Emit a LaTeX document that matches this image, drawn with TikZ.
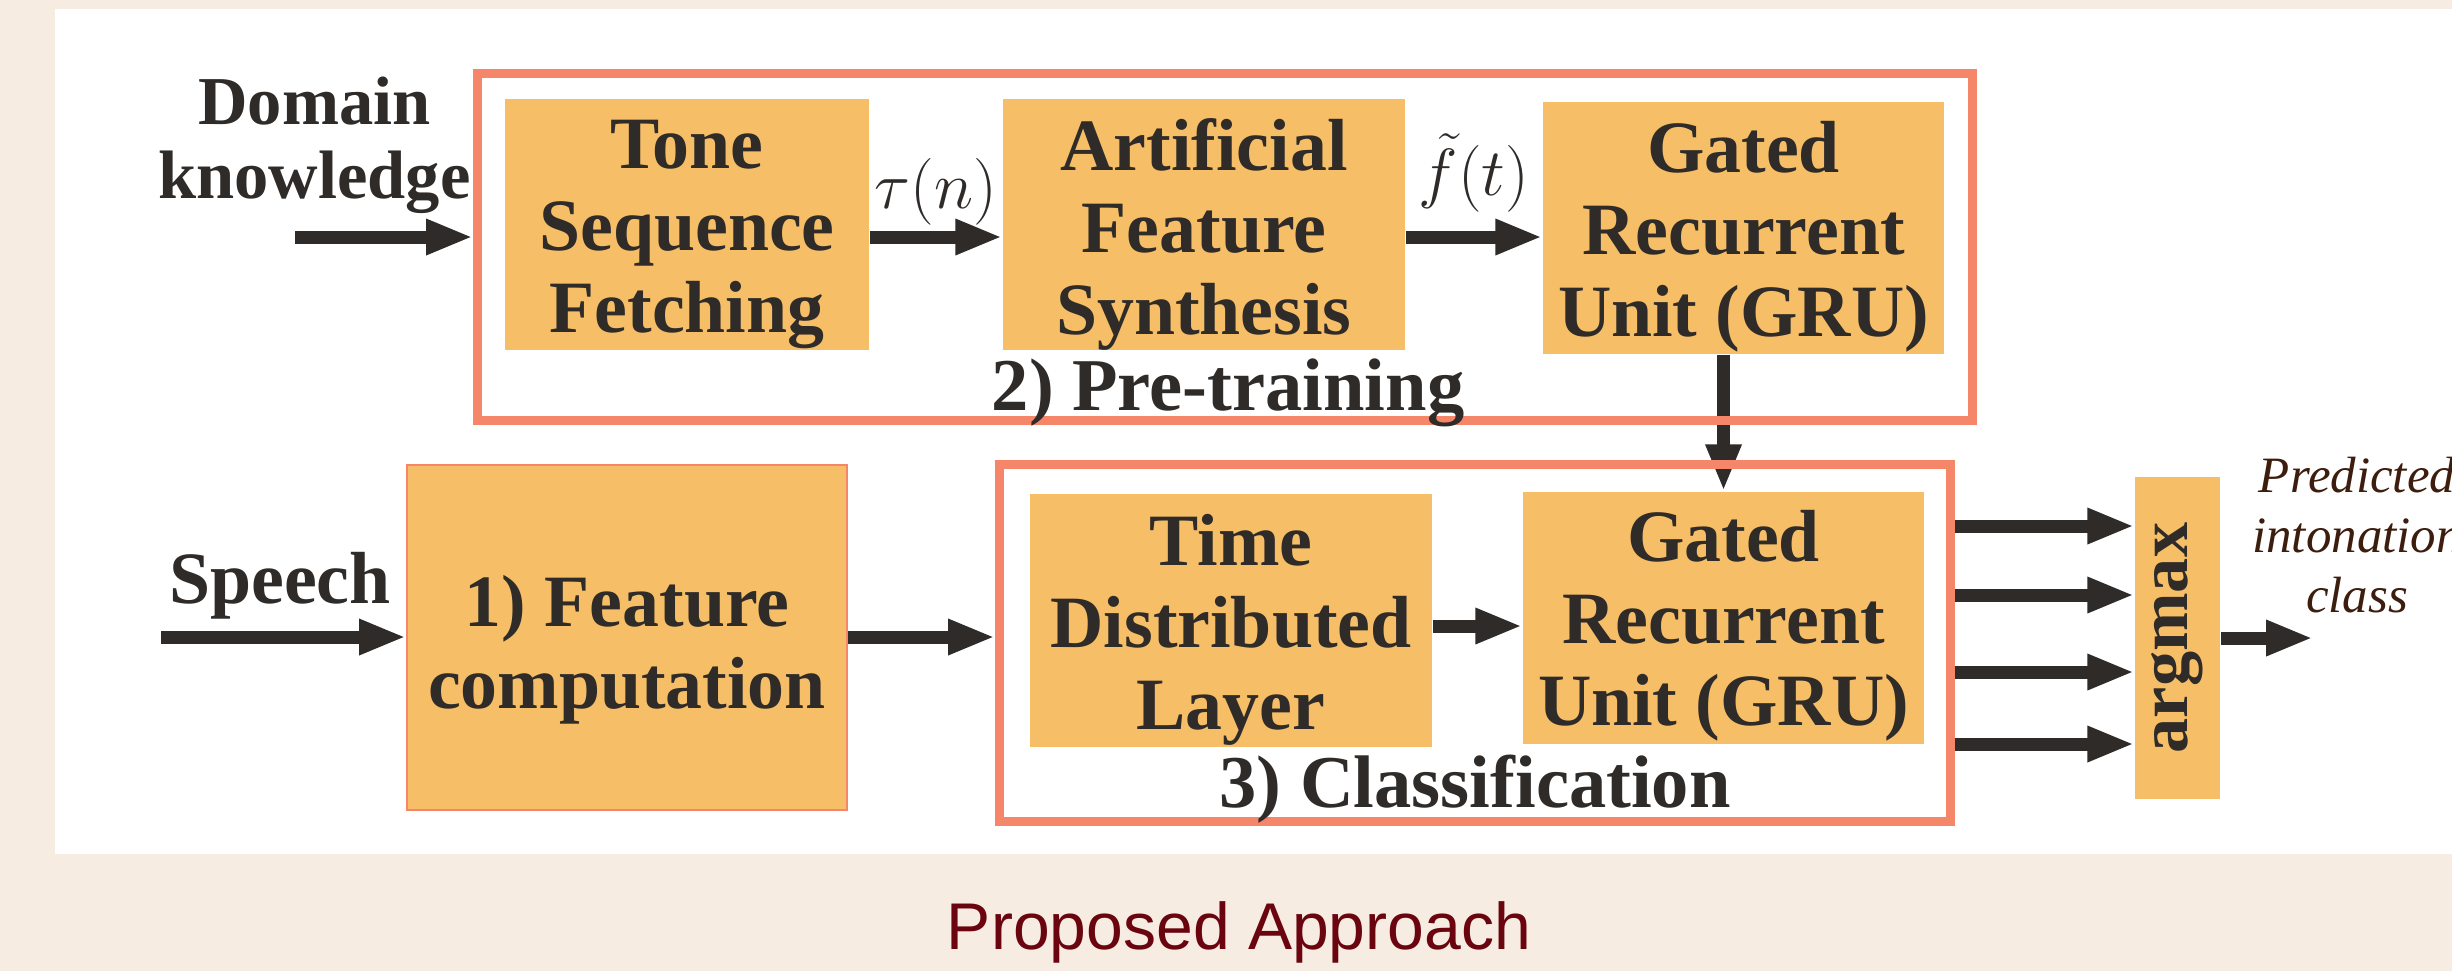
\RequirePackage{fix-cm}
\documentclass[tikz,border=0pt]{standalone}
\usepackage{fontspec}
\setmainfont{Liberation Serif}
\newfontfamily\titlefont{Liberation Sans}
\usetikzlibrary{arrows.meta,calc}
\definecolor{bgbeige}{HTML}{F6ECE1}
\definecolor{boxfill}{HTML}{F6BE67}
\definecolor{framec}{HTML}{F5866A}
\definecolor{arrowc}{HTML}{2E2B29}
\definecolor{titlec}{HTML}{6A0510}
\definecolor{predc}{HTML}{3D1E0E}
\begin{document}
\begin{tikzpicture}[x=0.1mm,y=-0.1mm,
  blk/.style={fill=boxfill, inner sep=0pt},
  btxt/.style={inner sep=0pt, align=center, text=arrowc,
    font=\bfseries\fontsize{21}{23.3}\selectfont},
  grp/.style={draw=framec, line width=0.9mm, inner sep=0pt},
  arr/.style={draw=arrowc, line width=1.3mm, -{Triangle[length=4.7mm,width=3.3mm]}},
  lbl/.style={text=arrowc, align=center, inner sep=0pt},
  mathlbl/.style={inner sep=0pt, outer sep=0pt, text=arrowc, font=\fontsize{19}{19}\selectfont},
]
\useasboundingbox (0,0) rectangle (2452,971);
\clip (0,0) rectangle (2452,971);
\fill[bgbeige] (0,0) rectangle (2452,971);
\fill[white] (55,9) rectangle (2452,854);

% blocks
\node[blk, minimum width=36.4mm, minimum height=25.1mm] (tone) at (687,224.5) {};
\node[blk, minimum width=40.2mm, minimum height=25.1mm] (afs) at (1204,224.5) {};
\node[blk, minimum width=40.1mm, minimum height=25.2mm] (gru1) at (1743.5,228) {};
\node[blk, draw=framec, line width=0.2mm, minimum width=44mm, minimum height=34.5mm] (feat) at (627,637.5) {};
\node[blk, minimum width=40.2mm, minimum height=25.3mm] (tdl) at (1231,620.5) {};
\node[blk, minimum width=40.1mm, minimum height=25.2mm] (gru2) at (1723.5,618) {};
\node[blk, minimum width=8.5mm, minimum height=32.2mm] (argmax) at (2177.5,638) {};

% block texts
\node[btxt] (tonetxt) at ([yshift=-1mm]tone.center) {Tone\\Sequence\\Fetching};
\node[btxt] (afstxt) at ([yshift=-1mm]afs.center) {Artificial\\Feature\\Synthesis};
\node[btxt] (gru1txt) at ([yshift=-0.9mm]gru1.center) {Gated\\Recurrent\\Unit (GRU)};
\node[btxt] (feattxt) at ([yshift=-1.2mm]feat.center) {1) Feature\\computation};
\node[btxt] (tdltxt) at ([yshift=-0.9mm]tdl.center) {Time\\Distributed\\Layer};
\node[btxt] (gru2txt) at ([yshift=-0.8mm]gru2.center) {Gated\\Recurrent\\Unit (GRU)};
\node[lbl, rotate=90, font=\bfseries\fontsize{20}{20}\selectfont] (argtxt) at (argmax.center) {argmax};

% pre-training to classification arrow (under the frames)
\draw[arr] (gru2.north |- gru1.south) -- (gru2.north);

% frames
\node[grp, minimum width=149.5mm, minimum height=34.7mm] (pre) at (1225,247) {};
\node[grp, minimum width=95.1mm, minimum height=35.7mm] (cls) at (1475,643) {};

% texts
\node[lbl, anchor=base, font=\bfseries\fontsize{19.5}{20.8}\selectfont] (dom) at (314.5,198) {Domain\\knowledge};
\node[lbl, anchor=base, font=\bfseries\fontsize{21}{23}\selectfont] (speech) at (280,603) {Speech};
\node[lbl, anchor=base, font=\bfseries\fontsize{21.2}{23}\selectfont] (pretxt) at (1228,410) {2) Pre-training};
\node[lbl, anchor=base, font=\bfseries\fontsize{21.2}{23}\selectfont] (clstxt) at (1475,807) {3) Classification};
\node[lbl, text=predc, font=\itshape\fontsize{14.5}{17}\selectfont] (pred) at (2357,535) {Predicted\\intonation\\class};
\node[anchor=base, inner sep=0pt, text=titlec, font=\titlefont\fontsize{18.8}{20}\selectfont] (title) at (1239,949) {Proposed Approach};

% connectors
\coordinate (dk) at (295,237);
\draw[arr] (dk) -- (dk -| pre.west);
\draw[arr] (tone.east |- dk) -- (afs.west |- dk)
  node[mathlbl, midway, above=1.2mm] (taun) {$\tau(n)$};
\draw[arr] (afs.east |- dk) -- (gru1.west |- dk)
  node[mathlbl, midway, above=2.5mm] (ft) {$\tilde{f}(t)$};
\coordinate (sp) at (161,637);
\draw[arr] (sp) -- (sp -| feat.west);
\draw[arr] (feat.east |- sp) -- (sp -| cls.west);
\draw[arr] ([yshift=-0.55mm]tdl.east) -- ([yshift=-0.55mm]tdl.east -| gru2.west);
\foreach \yy in {526,595,672,744} {
  \coordinate (o\yy) at (2000,\yy);
  \draw[arr] (cls.east |- o\yy) -- (argmax.west |- o\yy);
}
\coordinate (out) at (2313,638);
\draw[arr] (argmax.east |- out) -- (out);
\end{tikzpicture}
\end{document}
